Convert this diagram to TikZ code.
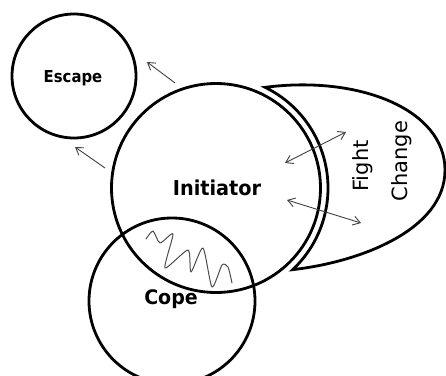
\documentclass[tikz,border=0pt]{standalone}
\usepackage{fontspec}
\setmainfont{DejaVu Sans}
\usetikzlibrary{arrows.meta}
\newcommand{\narrow}[2]{\scalebox{#1}[1]{#2}}
\begin{document}
\begin{tikzpicture}[x=1pt,y=-1pt,
  ring/.style={draw=black,line width=2.8pt,circle,minimum size=#1,inner sep=0pt},
  label/.style={font=\bfseries\fontsize{#1}{#1}\selectfont,anchor=base,inner sep=0pt},
  sidelabel/.style={font=\fontsize{21}{21}\selectfont,anchor=base,rotate=90,inner sep=0pt},
  link/.style={draw=black!75,line width=0.9pt,-{Straight Barb[length=7pt,width=9pt]}},
  twoway/.style={draw=black!75,line width=0.9pt,{Straight Barb[length=7pt,width=9pt]}-{Straight Barb[length=7pt,width=9pt]}},
  squiggle/.style={draw=black!70,line width=1pt,line join=round,line cap=round}]
\useasboundingbox (0,0) rectangle (446,375);
\clip (0,0) rectangle (446,375);

% main circles
\node[ring=124pt] (escape) at (74,76) {};
\node[ring=209pt] (init) at (216,188) {};
\node[ring=166pt] (cope) at (172,301) {};

% crescent holding Fight / Change
\draw[line width=2.8pt,line join=miter]
  (init.center) ++(-64:112) coordinate (tiptop)
  arc[start angle=-64,end angle=46.8,radius=112] coordinate (tipbot)
  .. controls (360,262) and (445,230) .. (445,170)
  .. controls (445,110) and (360,75) .. (tiptop) -- cycle;

% labels
\node[label=16.5] (tEscape) at (73,82) {\narrow{0.9}{Escape}};
\node[label=20.5] (tInit) at (217,195) {\narrow{0.94}{Initiator}};
\node[label=20] (tCope) at (171,304) {\narrow{0.95}{Cope}};
\node[sidelabel] (tFight) at (368,166) {Fight};
\node[sidelabel] (tChange) at (407,161) {Change};

% arrows
\coordinate (a1s) at (175,83);  \coordinate (a1e) at (147,62);
\coordinate (a2s) at (105,168); \coordinate (a2e) at (75,147);
\coordinate (a3s) at (285,163); \coordinate (a3e) at (346,132);
\coordinate (a4s) at (287,200); \coordinate (a4e) at (361,223);
\draw[link] (a1s) -- (a1e);
\draw[link] (a2s) -- (a2e);
\draw[twoway] (a3s) -- (a3e);
\draw[twoway] (a4s) -- (a4e);

% scribble in the overlap
\draw[squiggle] plot[smooth,tension=0.4] coordinates {
  (146,239) (153,231) (160,243) (173,234) (165,268) (188,250)
  (191,272) (203,248) (212,287) (222,265) (228,267) (232,283)};
\end{tikzpicture}
\end{document}
